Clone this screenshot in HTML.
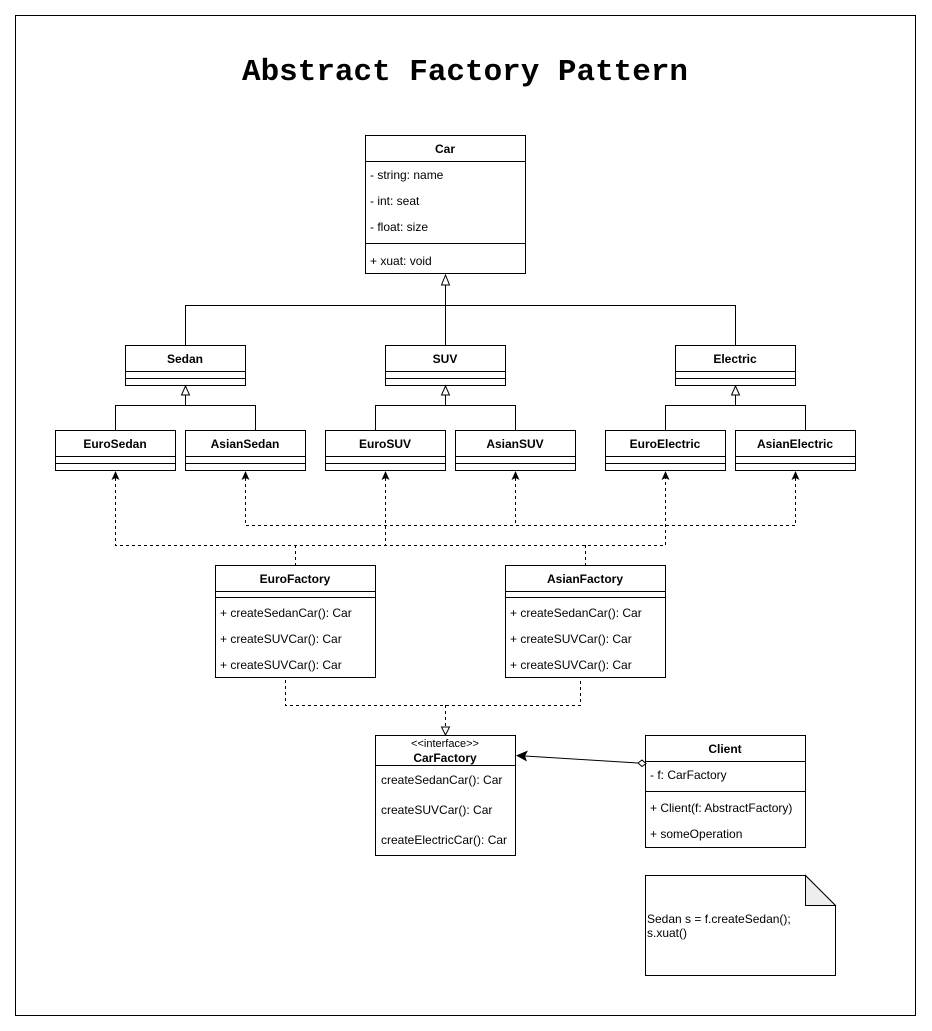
<!DOCTYPE html>
<html><head><meta charset="utf-8"><style>
html,body{margin:0;padding:0;background:#fff;}
svg{display:block;}
text{font-family:"Liberation Sans",Arial,sans-serif;font-size:12px;fill:#000;}
.b{font-weight:bold;}
</style></head><body>
<svg width="932" height="1031" viewBox="0 0 932 1031" xmlns="http://www.w3.org/2000/svg">
<rect x="0" y="0" width="932" height="1031" fill="#fff"/>
<rect x="15.5" y="15.5" width="900" height="1000" fill="none" stroke="#000"/>
<text x="465" y="80" text-anchor="middle" style="font-family:'Liberation Mono',monospace;font-size:31px;font-weight:bold" textLength="446" lengthAdjust="spacingAndGlyphs">Abstract Factory Pattern</text>

<g fill="none" stroke="#000">
<!-- Car -->
<rect x="365.5" y="135.5" width="160" height="138" fill="#fff"/>
<line x1="365" y1="161.5" x2="525" y2="161.5"/>
<line x1="365" y1="243.5" x2="525" y2="243.5"/>
<!-- mid level -->
<rect x="125.5" y="345.5" width="120" height="40"/><line x1="125" y1="371.5" x2="245" y2="371.5"/><line x1="125" y1="378.5" x2="245" y2="378.5"/>
<rect x="385.5" y="345.5" width="120" height="40"/><line x1="385" y1="371.5" x2="505" y2="371.5"/><line x1="385" y1="378.5" x2="505" y2="378.5"/>
<rect x="675.5" y="345.5" width="120" height="40"/><line x1="675" y1="371.5" x2="795" y2="371.5"/><line x1="675" y1="378.5" x2="795" y2="378.5"/>
<!-- leaves -->
<g id="leaf">
<rect x="55.5" y="430.5" width="120" height="40"/><line x1="55" y1="456.5" x2="175" y2="456.5"/><line x1="55" y1="463.5" x2="175" y2="463.5"/>
</g>
<use href="#leaf" x="130"/><use href="#leaf" x="270"/><use href="#leaf" x="400"/><use href="#leaf" x="550"/><use href="#leaf" x="680"/>
<!-- inheritance lines -->
<polyline points="445.5,285 445.5,305.5"/>
<polyline points="185.5,345 185.5,305.5 735.5,305.5 735.5,345"/>
<line x1="445.5" y1="305" x2="445.5" y2="345"/>
<polygon points="445.5,275 441.5,285 449.5,285" fill="#fff"/>
<line x1="185.5" y1="395" x2="185.5" y2="405.5"/><polyline points="115.5,430 115.5,405.5 255.5,405.5 255.5,430"/><polygon points="185.5,386 181.5,395 189.5,395" fill="#fff"/>
<line x1="445.5" y1="395" x2="445.5" y2="405.5"/><polyline points="375.5,430 375.5,405.5 515.5,405.5 515.5,430"/><polygon points="445.5,386 441.5,395 449.5,395" fill="#fff"/>
<line x1="735.5" y1="395" x2="735.5" y2="405.5"/><polyline points="665.5,430 665.5,405.5 805.5,405.5 805.5,430"/><polygon points="735.5,386 731.5,395 739.5,395" fill="#fff"/>
<!-- dashed dependencies -->
<g stroke-dasharray="3,3">
<polyline points="115.5,478 115.5,545.5 665.5,545.5 665.5,478"/>
<line x1="385.5" y1="478" x2="385.5" y2="545"/>
<line x1="295.5" y1="545" x2="295.5" y2="565"/>
<line x1="585.5" y1="545" x2="585.5" y2="565"/>
<polyline points="245.5,478 245.5,525.5 795.5,525.5 795.5,478"/>
<line x1="515.5" y1="478" x2="515.5" y2="525"/>
<polyline points="285.5,680 285.5,705.5 580.5,705.5 580.5,680"/>
<line x1="445.5" y1="705" x2="445.5" y2="727"/>
</g>
<polygon points="445.5,735 441.5,727 449.5,727" fill="#fff"/>
<!-- factories -->
<rect x="215.5" y="565.5" width="160" height="112" fill="#fff"/><line x1="215" y1="591.5" x2="375" y2="591.5"/><line x1="215" y1="597.5" x2="375" y2="597.5"/>
<rect x="505.5" y="565.5" width="160" height="112" fill="#fff"/><line x1="505" y1="591.5" x2="665" y2="591.5"/><line x1="505" y1="597.5" x2="665" y2="597.5"/>
<!-- CarFactory -->
<rect x="375.5" y="735.5" width="140" height="120" fill="#fff"/><line x1="375" y1="765.5" x2="515" y2="765.5"/>
<!-- Client -->
<rect x="645.5" y="735.5" width="160" height="112" fill="#fff"/><line x1="645" y1="761.5" x2="805" y2="761.5"/><line x1="645" y1="791.5" x2="805" y2="791.5"/>
<!-- association -->
<line x1="638" y1="763" x2="525" y2="756"/>
<polygon points="638,763 642,760 646,763.5 642,766.5" fill="#fff"/>
<!-- note -->
<polygon points="645.5,875.5 805.5,875.5 835.5,905.5 835.5,975.5 645.5,975.5" fill="#fff"/>
<polygon points="805.5,875.5 805.5,905.5 835.5,905.5" fill="#eee"/>
</g>
<polygon points="516,755.5 528,750.5 525,756 527,761.5" fill="#000"/>
<g fill="#000">
<polygon points="115.5,471 111.5,480 115.5,478 119.5,480"/>
<polygon points="245.5,471 241.5,480 245.5,478 249.5,480"/>
<polygon points="385.5,471 381.5,480 385.5,478 389.5,480"/>
<polygon points="515.5,471 511.5,480 515.5,478 519.5,480"/>
<polygon points="665.5,471 661.5,480 665.5,478 669.5,480"/>
<polygon points="795.5,471 791.5,480 795.5,478 799.5,480"/>
</g>

<text class="b" x="445" y="153" text-anchor="middle">Car</text>
<text x="370" y="179">- string: name</text>
<text x="370" y="205">- int: seat</text>
<text x="370" y="231">- float: size</text>
<text x="370" y="265">+ xuat: void</text>
<text class="b" x="185" y="363" text-anchor="middle">Sedan</text>
<text class="b" x="445" y="363" text-anchor="middle">SUV</text>
<text class="b" x="735" y="363" text-anchor="middle">Electric</text>
<text class="b" x="115" y="448" text-anchor="middle">EuroSedan</text>
<text class="b" x="245" y="448" text-anchor="middle">AsianSedan</text>
<text class="b" x="385" y="448" text-anchor="middle">EuroSUV</text>
<text class="b" x="515" y="448" text-anchor="middle">AsianSUV</text>
<text class="b" x="665" y="448" text-anchor="middle">EuroElectric</text>
<text class="b" x="795" y="448" text-anchor="middle">AsianElectric</text>
<text class="b" x="295" y="583" text-anchor="middle">EuroFactory</text>
<text x="220" y="617">+ createSedanCar(): Car</text>
<text x="220" y="643">+ createSUVCar(): Car</text>
<text x="220" y="669">+ createSUVCar(): Car</text>
<text class="b" x="585" y="583" text-anchor="middle">AsianFactory</text>
<text x="510" y="617">+ createSedanCar(): Car</text>
<text x="510" y="643">+ createSUVCar(): Car</text>
<text x="510" y="669">+ createSUVCar(): Car</text>
<text x="445" y="747" text-anchor="middle" style="font-size:11px">&lt;&lt;interface&gt;&gt;</text>
<text class="b" x="445" y="762" text-anchor="middle">CarFactory</text>
<text x="381" y="784">createSedanCar(): Car</text>
<text x="381" y="814">createSUVCar(): Car</text>
<text x="381" y="844">createElectricCar(): Car</text>
<text class="b" x="725" y="753" text-anchor="middle">Client</text>
<text x="650" y="779">- f: CarFactory</text>
<text x="650" y="812">+ Client(f: AbstractFactory)</text>
<text x="650" y="838">+ someOperation</text>
<text x="647" y="923">Sedan s = f.createSedan();</text>
<text x="647" y="937">s.xuat()</text>
</svg>
</body></html>
